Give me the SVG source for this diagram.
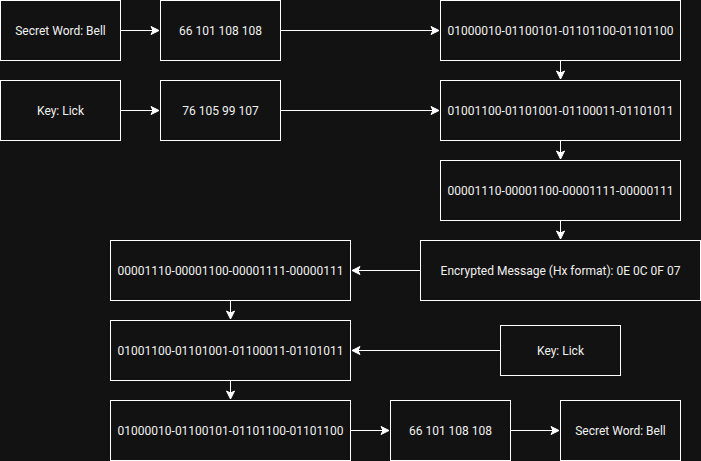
<svg xmlns="http://www.w3.org/2000/svg" width="701" height="461" viewBox="0 0 701 461">
<style>
.n rect{fill:#121212;stroke:#ffffff;stroke-width:1}
.n text{fill:#f0f0f0;font-family:Roboto,"Liberation Sans",sans-serif;font-size:12px;text-anchor:middle;dominant-baseline:central}
.e path{fill:none;stroke:#ffffff;stroke-width:1}
</style>
<defs>
<marker id="ar" markerUnits="userSpaceOnUse" markerWidth="12" markerHeight="12" viewBox="-10 -6 12 12" refX="0" refY="0" orient="auto">
<path d="M0,0 L-8,-4 L-6,0 L-8,4 Z" fill="#ffffff" stroke="#ffffff" stroke-width="1"/>
</marker>
</defs>
<rect width="701" height="461" fill="#121212"/>
<g class="e">
<path d="M120.5,30.5 H159" marker-end="url(#ar)"/>
<path d="M280.5,30.5 H439" marker-end="url(#ar)"/>
<path d="M120.5,110.5 H159" marker-end="url(#ar)"/>
<path d="M280.5,110.5 H439" marker-end="url(#ar)"/>
<path d="M560.5,60.5 V79" marker-end="url(#ar)"/>
<path d="M560.5,140.5 V159" marker-end="url(#ar)"/>
<path d="M560.5,220.5 V239" marker-end="url(#ar)"/>
<path d="M420.5,270.5 H352" marker-end="url(#ar)"/>
<path d="M230.5,300.5 V319" marker-end="url(#ar)"/>
<path d="M500.5,350.5 H352" marker-end="url(#ar)"/>
<path d="M230.5,380.5 V399" marker-end="url(#ar)"/>
<path d="M350.5,430.5 H389" marker-end="url(#ar)"/>
<path d="M510.5,430.5 H559" marker-end="url(#ar)"/>
</g>
<g class="n" id="secret1"><rect x="0.5" y="0.5" width="120" height="60"/><text x="60.5" y="30.5">Secret Word: Bell</text></g>
<g class="n" id="ascii1"><rect x="160.5" y="0.5" width="120" height="60"/><text x="220.5" y="30.5">66 101 108 108</text></g>
<g class="n" id="bin1"><rect x="440.5" y="0.5" width="240" height="60"/><text x="560.5" y="30.5">01000010-01100101-01101100-01101100</text></g>
<g class="n" id="key1"><rect x="0.5" y="80.5" width="120" height="60"/><text x="60.5" y="110.5">Key: Lick</text></g>
<g class="n" id="keyascii"><rect x="160.5" y="80.5" width="120" height="60"/><text x="220.5" y="110.5">76 105 99 107</text></g>
<g class="n" id="keybin1"><rect x="440.5" y="80.5" width="240" height="60"/><text x="560.5" y="110.5">01001100-01101001-01100011-01101011</text></g>
<g class="n" id="xor1"><rect x="440.5" y="160.5" width="240" height="60"/><text x="560.5" y="190.5">00001110-00001100-00001111-00000111</text></g>
<g class="n" id="enc"><rect x="420.5" y="240.5" width="280" height="60"/><text x="560.5" y="270.5">Encrypted Message (Hx format): 0E 0C 0F 07</text></g>
<g class="n" id="xor2"><rect x="110.5" y="240.5" width="240" height="60"/><text x="230.5" y="270.5">00001110-00001100-00001111-00000111</text></g>
<g class="n" id="keybin2"><rect x="110.5" y="320.5" width="240" height="60"/><text x="230.5" y="350.5">01001100-01101001-01100011-01101011</text></g>
<g class="n" id="key2"><rect x="500.5" y="325.5" width="120" height="50"/><text x="560.5" y="350.5">Key: Lick</text></g>
<g class="n" id="bin2"><rect x="110.5" y="400.5" width="240" height="60"/><text x="230.5" y="430.5">01000010-01100101-01101100-01101100</text></g>
<g class="n" id="ascii2"><rect x="390.5" y="400.5" width="120" height="60"/><text x="450.5" y="430.5">66 101 108 108</text></g>
<g class="n" id="secret2"><rect x="560.5" y="400.5" width="120" height="60"/><text x="620.5" y="430.5">Secret Word: Bell</text></g>
</svg>
